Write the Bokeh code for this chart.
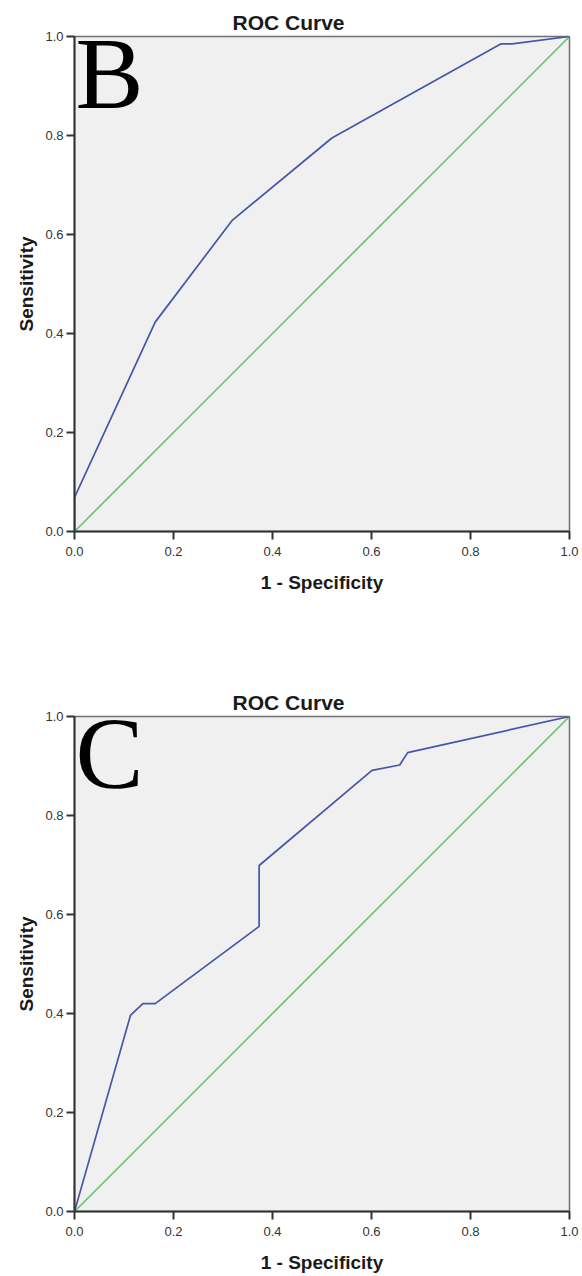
from bokeh.plotting import figure
from bokeh.models import Range1d, FixedTicker, Label
from bokeh.layouts import column
from bokeh.embed import file_html
from bokeh.resources import INLINE

# ---- data ----
ticks = [0.0, 0.2, 0.4, 0.6, 0.8, 1.0]
tick_labels = ["0.0", "0.2", "0.4", "0.6", "0.8", "1.0"]

b_fpr = [0.0, 0.0, 0.163, 0.318, 0.52, 0.861, 0.884, 1.0]
b_tpr = [0.0, 0.069, 0.423, 0.628, 0.795, 0.985, 0.985, 1.0]

c_fpr = [0.0, 0.113, 0.138, 0.163, 0.373, 0.373, 0.601, 0.657, 0.673, 1.0]
c_tpr = [0.0, 0.396, 0.42, 0.42, 0.576, 0.699, 0.891, 0.902, 0.927, 1.0]

diag_x = [0.0, 1.0]
diag_y = [0.0, 1.0]

BLUE = "#4656a8"
GREEN = "#5cbf68"
FONT = "Liberation Sans"


def make(letter, fpr, tpr, height, top, bottom):
    p = figure(width=582, height=height, output_backend="svg", toolbar_location=None,
               x_range=Range1d(0, 1), y_range=Range1d(0, 1),
               min_border_left=74, min_border_right=13,
               min_border_top=top, min_border_bottom=bottom,
               title="ROC Curve")
    p.background_fill_color = "#f0f0f0"
    p.border_fill_color = "white"
    p.outline_line_color = "#707070"
    p.outline_line_width = 1.5
    p.grid.visible = False

    p.title.align = "left"
    p.title.offset = 158
    p.title.text_font = FONT
    p.title.text_font_size = "21px"
    p.title.text_font_style = "bold"
    p.title.text_color = "#1a1a1a"
    p.title.standoff = 6

    for ax in (p.xaxis[0], p.yaxis[0]):
        ax.ticker = FixedTicker(ticks=ticks)
        ax.major_label_overrides = {t: s for t, s in zip(ticks, tick_labels)}
        ax.axis_line_color = "#333333"
        ax.axis_line_width = 2
        ax.major_tick_line_color = "#333333"
        ax.major_tick_line_width = 2
        ax.major_tick_out = 8
        ax.major_tick_in = 0
        ax.minor_tick_line_color = None
        ax.major_label_text_font = FONT
        ax.major_label_text_font_size = "13px"
        ax.major_label_text_color = "#333333"
        ax.axis_label_text_font = FONT
        ax.axis_label_text_font_size = "19px"
        ax.axis_label_text_font_style = "bold"
        ax.axis_label_text_color = "#1a1a1a"

    p.xaxis.axis_label = "1 - Specificity"
    p.yaxis.axis_label = "Sensitivity"
    p.xaxis.major_label_standoff = 7
    p.yaxis.major_label_standoff = 3
    p.xaxis.axis_label_standoff = 13
    p.yaxis.axis_label_standoff = 5

    p.line(diag_x, diag_y, line_color=GREEN, line_width=1.5)
    p.line(fpr, tpr, line_color=BLUE, line_width=1.7)

    p.add_layout(Label(x=0, y=0.925, text=letter, text_font="Liberation Serif",
                       text_font_size="102px", text_baseline="alphabetic",
                       text_color="black", x_offset=1))
    return p


p1 = make("B", b_fpr, b_tpr, 640, 36, 109)
p2 = make("C", c_fpr, c_tpr, 636, 76, 65)

layout = column(p1, p2, spacing=0)
open("out.html", "w").write(file_html(layout, INLINE))
